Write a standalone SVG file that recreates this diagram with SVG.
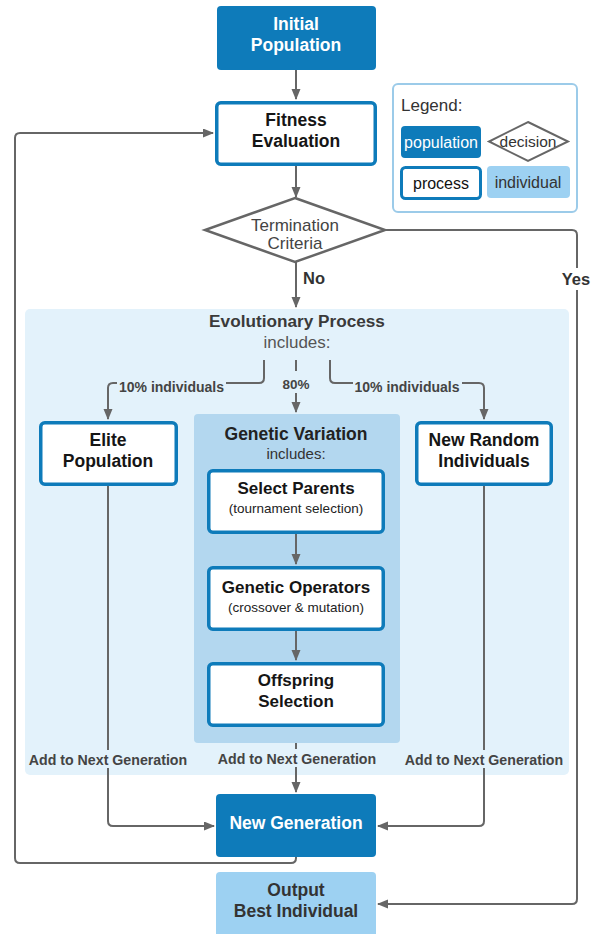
<svg xmlns="http://www.w3.org/2000/svg" width="599" height="934" viewBox="0 0 599 934">
<defs>
<marker id="arr" markerWidth="11" markerHeight="10" refX="10" refY="4.5" orient="auto" markerUnits="userSpaceOnUse">
<path d="M0,0 L11,4.5 L0,9 z" fill="#666"/>
</marker>
<style>
text{font-family:"Liberation Sans",Arial,sans-serif;text-anchor:middle}
.pop{fill:#0e7bba}
.proc{fill:#fff;stroke:#0e7bba;stroke-width:3.5}
.ind{fill:#9dd1f2}
.w{fill:#fff;font-weight:bold;font-size:17.5px}
.t{fill:#151515;font-weight:bold;font-size:17.5px}
.sub{fill:#222;font-size:13.5px}
.lbl{fill:#444;font-weight:bold;font-size:14.2px}
.conn{fill:none;stroke:#666;stroke-width:2}
</style>
</defs>

<g id="evolutionary-process">
<rect x="25" y="309" width="544" height="466" rx="5" fill="#e3f2fb"/>
<text x="297" y="327" style="font-weight:bold;font-size:17.2px;fill:#3a3a3a">Evolutionary Process</text>
<text x="297" y="348" style="font-size:17px;fill:#555">includes:</text>
</g>

<g id="genetic-variation">
<rect x="194" y="414" width="206" height="329" rx="4" fill="#b3d7ef"/>
<text x="296" y="440" class="t" style="font-size:17.5px;fill:#222">Genetic Variation</text>
<text x="296" y="459" style="font-size:15px;fill:#333">includes:</text>
</g>

<g id="connectors">
<path class="conn" d="M296,70 V99" marker-end="url(#arr)"/>
<path class="conn" d="M296,166 V197" marker-end="url(#arr)"/>
<path class="conn" d="M296,262 V307" marker-end="url(#arr)"/>
<path class="conn" d="M385,230 H572 Q577,230 577,235 V899 Q577,904 572,904 H378" marker-end="url(#arr)"/>
<path class="conn" d="M264,360 V378 Q264,383 259,383 H113 Q108,383 108,388 V419" marker-end="url(#arr)"/>
<path class="conn" d="M296,360 V412" marker-end="url(#arr)"/>
<path class="conn" d="M330,360 V378 Q330,383 335,383 H479 Q484,383 484,388 V419" marker-end="url(#arr)"/>
<path class="conn" d="M296,534 V564" marker-end="url(#arr)"/>
<path class="conn" d="M296,631 V660" marker-end="url(#arr)"/>
<path class="conn" d="M296,743 V792" marker-end="url(#arr)"/>
<path class="conn" d="M108,486 V821 Q108,826 113,826 H214" marker-end="url(#arr)"/>
<path class="conn" d="M484,486 V821 Q484,826 479,826 H378" marker-end="url(#arr)"/>
<path class="conn" d="M296,857 V858 Q296,863 291,863 H20 Q15,863 15,858 V138 Q15,133 20,133 H213" marker-end="url(#arr)"/>
<rect x="117" y="375" width="109" height="17" fill="#e3f2fb"/>
<rect x="282" y="371" width="28" height="22" fill="#e3f2fb"/>
<rect x="353" y="375" width="109" height="17" fill="#e3f2fb"/>
<rect x="28" y="750" width="160" height="18" fill="#e3f2fb"/>
<rect x="217" y="749" width="160" height="18" fill="#e3f2fb"/>
<rect x="404" y="750" width="160" height="18" fill="#e3f2fb"/>
<rect x="560" y="268" width="34" height="22" fill="#fff"/>
<text x="171.5" y="392" class="lbl" style="font-size:14px">10% individuals</text>
<text x="296" y="389" class="lbl" style="font-size:13.5px">80%</text>
<text x="407" y="392" class="lbl" style="font-size:14px">10% individuals</text>
<text x="108" y="765" class="lbl">Add to Next Generation</text>
<text x="297" y="764" class="lbl">Add to Next Generation</text>
<text x="484" y="765" class="lbl">Add to Next Generation</text>
<text x="314" y="284" class="lbl" style="font-size:16.5px;fill:#333">No</text>
<text x="576" y="285" class="lbl" style="font-size:16.5px;fill:#333">Yes</text>
</g>

<g id="initial-population">
<rect x="217" y="6" width="159" height="64" rx="4" class="pop"/>
<text x="296" y="30" class="w">Initial</text>
<text x="296" y="51" class="w">Population</text>
</g>

<g id="fitness-evaluation">
<rect x="216.75" y="102.75" width="158.5" height="61.5" rx="4" class="proc"/>
<text x="296" y="126" class="t">Fitness</text>
<text x="296" y="147" class="t">Evaluation</text>
</g>

<g id="legend">
<rect x="393" y="84" width="184" height="128" rx="5" fill="#fff" stroke="#9ccbe9" stroke-width="2"/>
<text x="401" y="111" style="text-anchor:start;font-size:17px;fill:#333">Legend:</text>
<rect x="401" y="126" width="80" height="32" rx="4" class="pop"/>
<text x="441" y="148" style="font-size:16px;fill:#fff">population</text>
<path d="M528,122 L568,141.5 L528,161 L489,141.5 z" fill="#fff" stroke="#666" stroke-width="2"/>
<text x="528" y="147" style="font-size:15.5px;fill:#333">decision</text>
<rect x="401.5" y="167.5" width="79" height="31" rx="4" class="proc" style="stroke-width:3"/>
<text x="441" y="189" style="font-size:16px;fill:#111">process</text>
<rect x="487" y="166" width="83" height="32" rx="4" class="ind"/>
<text x="528" y="188" style="font-size:16px;fill:#333">individual</text>
</g>

<g id="termination-criteria">
<path d="M295,198 L385,230 L295,262 L205,230 z" fill="#fff" stroke="#666" stroke-width="2.5"/>
<text x="295" y="231" style="font-size:17px;fill:#444">Termination</text>
<text x="295" y="249" style="font-size:17px;fill:#444">Criteria</text>
</g>

<g id="elite-population">
<rect x="40.75" y="422.75" width="135.5" height="61.5" rx="4" class="proc"/>
<text x="108" y="446" class="t">Elite</text>
<text x="108" y="467" class="t">Population</text>
</g>

<g id="new-random-individuals">
<rect x="416.75" y="422.75" width="134.5" height="61.5" rx="4" class="proc"/>
<text x="484" y="446" class="t">New Random</text>
<text x="484" y="467" class="t">Individuals</text>
</g>

<g id="select-parents">
<rect x="208.75" y="470.75" width="174.5" height="61.5" rx="4" class="proc"/>
<text x="296" y="494" class="t" style="font-size:17px">Select Parents</text>
<text x="296" y="513" class="sub">(tournament selection)</text>
</g>

<g id="genetic-operators">
<rect x="208.75" y="567.75" width="174.5" height="61.5" rx="4" class="proc"/>
<text x="296" y="593" class="t" style="font-size:17px">Genetic Operators</text>
<text x="296" y="612" class="sub">(crossover &amp; mutation)</text>
</g>

<g id="offspring-selection">
<rect x="208.75" y="663.75" width="174.5" height="61.5" rx="4" class="proc"/>
<text x="296" y="686" class="t" style="font-size:17px">Offspring</text>
<text x="296" y="707" class="t" style="font-size:17px">Selection</text>
</g>

<g id="new-generation">
<rect x="216" y="794" width="160" height="63" rx="4" class="pop"/>
<text x="296" y="829" class="w">New Generation</text>
</g>

<g id="output-best-individual">
<rect x="216" y="872" width="160" height="66" rx="4" class="ind"/>
<text x="296" y="896" class="t" style="fill:#333">Output</text>
<text x="296" y="917" class="t" style="fill:#333">Best Individual</text>
</g>
</svg>
